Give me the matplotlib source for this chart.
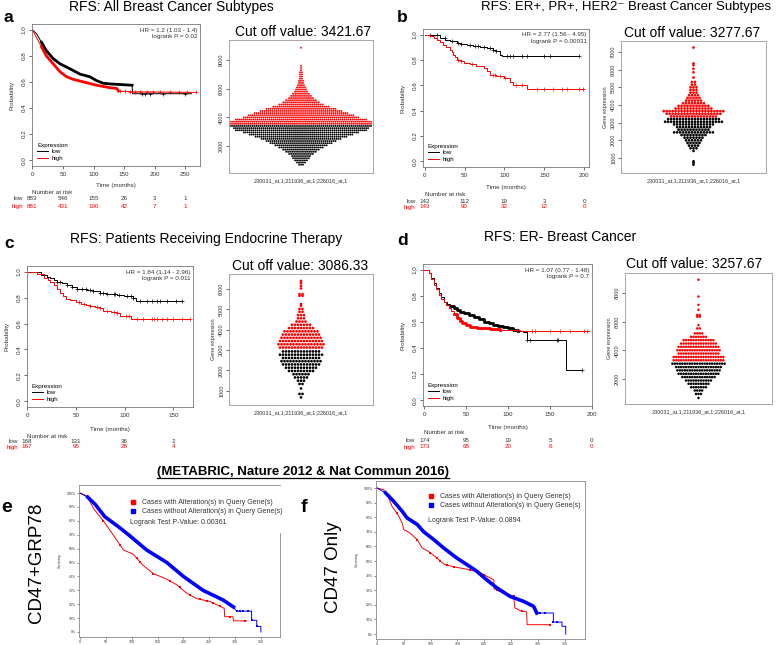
import numpy as np
import matplotlib
matplotlib.use('Agg')
import matplotlib.pyplot as plt
from matplotlib.lines import Line2D
from matplotlib import transforms

# ---- Kaplan-Meier curves (months, probability) ----
a_low_t = [0, 7, 15, 23, 34, 45, 62, 78, 94, 105, 116, 127, 163, 164, 260]
a_low_s = [1.0, 0.97, 0.905, 0.84, 0.78, 0.74, 0.70, 0.66, 0.64, 0.61, 0.59, 0.585, 0.575, 0.51, 0.51]
a_low_c = [179, 184, 192, 214, 250]
a_high_t = [0, 7, 15, 23, 34, 45, 56, 67, 84, 105, 127, 138, 141, 165, 268]
a_high_s = [1.0, 0.94, 0.87, 0.80, 0.74, 0.68, 0.64, 0.62, 0.60, 0.575, 0.556, 0.55, 0.53, 0.525, 0.52]
a_high_c = [144, 152, 160, 168, 176, 187, 198, 209, 225, 239, 253, 268]

b_low_t = [0, 11, 19, 26, 32, 40, 46, 53, 61, 70, 78, 86, 90, 95, 97, 193]
b_low_s = [1.0, 0.995, 0.97, 0.96, 0.95, 0.935, 0.925, 0.92, 0.91, 0.905, 0.895, 0.88, 0.87, 0.84, 0.83, 0.83]
b_low_c = [7, 15, 25, 34, 42, 46, 57, 63, 67, 74, 82, 86, 90, 103, 107, 111, 122, 128, 149, 157, 193]
b_high_t = [0, 7, 12, 15, 19, 23, 27, 32, 34, 36, 38, 40, 45, 49, 57, 65, 74, 78, 82, 90, 99, 107, 111, 124, 128, 200]
b_high_s = [1.0, 0.99, 0.975, 0.96, 0.94, 0.92, 0.90, 0.88, 0.86, 0.84, 0.82, 0.80, 0.79, 0.78, 0.765, 0.75,
            0.74, 0.71, 0.685, 0.67, 0.66, 0.63, 0.605, 0.605, 0.575, 0.575]
b_high_c = [42, 46, 59, 86, 88, 95, 101, 115, 122, 141, 149, 161, 172, 178, 193, 199]

c_low_t = [0, 7, 14, 20, 24, 28, 31, 36, 41, 46, 51, 56, 61, 68, 75, 82, 92, 99, 109, 112, 158]
c_low_s = [1.0, 0.995, 0.975, 0.96, 0.95, 0.935, 0.92, 0.91, 0.90, 0.885, 0.87, 0.865, 0.86, 0.85, 0.84,
           0.83, 0.82, 0.81, 0.80, 0.775, 0.775]
c_low_c = [31, 34, 41, 46, 51, 56, 60, 65, 68, 75, 78, 82, 89, 90, 94, 102, 107, 109, 116, 123, 128, 133,
           136, 143, 153, 159]
c_high_t = [0, 10, 17, 21, 24, 28, 31, 34, 37, 40, 44, 50, 55, 60, 65, 70, 75, 78, 86, 92, 95, 107, 167]
c_high_s = [1.0, 0.985, 0.95, 0.935, 0.92, 0.895, 0.87, 0.84, 0.81, 0.79, 0.78, 0.765, 0.755, 0.745, 0.735,
            0.73, 0.72, 0.70, 0.69, 0.68, 0.655, 0.635, 0.635]
c_high_c = [53, 58, 65, 72, 75, 82, 89, 92, 101, 104, 113, 119, 128, 130, 133, 138, 143, 150, 159, 167]

d_low_t = [0, 5, 8, 11, 14, 17, 20, 23, 27, 31, 35, 39, 43, 47, 53, 59, 65, 71, 77, 82, 88, 94, 100, 106,
           112, 118, 122, 169, 188]
d_low_s = [1.0, 0.975, 0.94, 0.90, 0.86, 0.82, 0.79, 0.755, 0.735, 0.72, 0.705, 0.69, 0.68, 0.67, 0.655,
           0.64, 0.62, 0.60, 0.59, 0.58, 0.57, 0.565, 0.55, 0.54, 0.53, 0.525, 0.46, 0.23, 0.23]
d_low_c = [122, 126, 158, 160, 188]
d_high_t = [0, 5, 8, 11, 14, 17, 20, 23, 26, 29, 32, 35, 39, 42, 45, 50, 55, 63, 78, 90, 114, 196]
d_high_s = [1.0, 0.975, 0.93, 0.885, 0.85, 0.81, 0.78, 0.755, 0.73, 0.705, 0.685, 0.665, 0.63, 0.61, 0.59,
            0.575, 0.565, 0.55, 0.545, 0.54, 0.53, 0.53]
d_high_c = [110, 128, 132, 150, 162, 174, 190, 194]

# number at risk
a_nar = ([0, 50, 100, 150, 200, 250], [883, 546, 155, 26, 3, 1], [881, 431, 190, 42, 7, 1])
b_nar = ([0, 50, 100, 150, 200], [142, 112, 19, 3, 0], [143, 90, 32, 12, 0])
c_nar = ([0, 50, 100, 150], [168, 131, 36, 2], [167, 95, 28, 4])
d_nar = ([0, 50, 100, 150, 200], [174, 95, 19, 5, 0], [173, 68, 20, 6, 0])

# ---- beeswarm rows: expression level and number of samples in the row ----
bs_a_levels = [700, 850, 1000, 1150, 1300, 1450, 1600, 1750, 1900, 2050, 2200, 2350, 2500, 2650, 2800,
               2950, 3100, 3250, 3400, 3550, 3700, 3850, 4000, 4150, 4300, 4450, 4600, 4750, 4900, 5050,
               5200, 5350, 5500, 5650, 5800, 5950, 6100, 6250, 6400, 6550, 6700, 6850, 7000, 7150, 7300,
               7450, 7600, 8860]
bs_a_counts = [3, 5, 7, 9, 10, 13, 16, 19, 23, 27, 32, 36, 41, 47, 53, 59, 67, 69, 72, 72, 72, 67, 59, 54,
               48, 42, 36, 29, 23, 19, 16, 13, 11, 9, 7, 6, 5, 4, 3, 3, 2, 2, 2, 2, 1, 1, 1, 1]
bs_b_levels = [620, 720, 810, 1400, 1550, 1700, 1850, 2000, 2150, 2300, 2450, 2600, 2750, 2900, 3050, 3200,
               3350, 3500, 3650, 3800, 3950, 4100, 4250, 4400, 4550, 4700, 4850, 5000, 5150, 5300, 5550,
               5850, 6050, 6250, 6350, 7250]
bs_b_counts = [1, 1, 1, 1, 3, 4, 5, 6, 7, 9, 14, 11, 12, 14, 20, 18, 16, 19, 21, 13, 11, 8, 6, 5, 4, 3, 3,
               3, 2, 2, 1, 1, 1, 1, 1, 1]
bs_c_levels = [670, 840, 1110, 1330, 1490, 1650, 1810, 1970, 2130, 2290, 2450, 2610, 2770, 2930, 3120,
               3280, 3440, 3600, 3760, 3920, 4080, 4240, 4400, 4560, 4720, 4880, 5020, 5180, 5260, 5670,
               5750, 6030, 6160, 6290, 6400]
bs_c_counts = [1, 2, 1, 2, 3, 5, 6, 9, 11, 13, 14, 13, 15, 13, 15, 16, 15, 14, 13, 12, 9, 7, 4, 3, 3, 2, 2,
               1, 1, 2, 2, 1, 1, 1, 1]
bs_d_levels = [660, 940, 1180, 1410, 1650, 1880, 2120, 2350, 2590, 2820, 3060, 3300, 3530, 3770, 4000,
               4240, 4470, 4710, 4940, 5180, 5530, 5760, 6350, 6470, 6830, 7180, 7760, 8940]
bs_d_counts = [1, 3, 4, 7, 9, 11, 14, 17, 18, 19, 22, 21, 21, 17, 18, 17, 15, 13, 7, 4, 2, 1, 2, 2, 1, 1,
               1, 1]
cutoffs = [3421.67, 3277.67, 3086.33, 3257.67]

# ---- METABRIC curves (months, % surviving) ----
e_with_t = [0, 13, 26, 45, 64, 84, 103, 122, 142, 168, 187, 206, 226, 251, 271, 279, 280, 296, 297, 322]
e_with_s = [100, 98, 89, 80, 70, 59, 56, 48, 42, 38, 34, 28, 24, 22, 18.5, 17, 11, 11, 8, 8]
e_with_c = [45, 77, 110, 116, 142, 174, 193, 213, 232, 245, 258, 271, 290, 320]
e_without_t = [0, 15, 29, 48, 77, 97, 129, 168, 200, 238, 277, 297, 303, 332, 332, 342, 342, 350, 350]
e_without_s = [100, 97, 92, 83, 75, 69, 59, 50, 40, 30, 23, 18, 15, 15, 8.4, 8.4, 4, 4, 0]
e_without_c = [303, 309, 316, 325, 332, 342]

f_with_t = [0, 12, 19, 28, 37, 47, 50, 62, 75, 84, 96, 112, 124, 143, 174, 193, 211, 218, 218, 236, 255,
            257, 270, 279, 280, 323]
f_with_s = [100, 98.9, 95.4, 87.4, 82.9, 76, 71.5, 69, 64.6, 59, 56.6, 52, 48, 46, 44, 41.8, 38.4, 37, 31,
            28, 25.8, 18, 15.5, 15.3, 6.4, 6.4]
f_with_c = [19, 37, 75, 99, 112, 118, 130, 143, 174, 186, 199, 224, 236, 255, 270, 323]
f_without_t = [0, 16, 31, 47, 56, 75, 87, 106, 124, 149, 174, 186, 205, 224, 248, 273, 292, 298, 329, 329,
               345, 345, 352, 352]
f_without_s = [100, 96.6, 90.9, 84, 79.5, 75, 70, 64.6, 59, 52, 46, 43, 37, 31.5, 25.8, 22.4, 19, 14.4,
               14.4, 8.2, 8.2, 5.3, 5.3, 0]
f_without_c = [298, 304, 314, 329, 335]

plt.rcParams['font.family'] = ['Liberation Sans', 'DejaVu Sans']
W, H = 778, 645
fig = plt.figure(figsize=(W / 100, H / 100), dpi=100)
TXT = '#333333'


def box(l, t, r, b):
    return fig.add_axes([l / W, 1 - b / H, (r - l) / W, (b - t) / H])


def ftext(x, y, s, **kw):
    return fig.text(x / W, 1 - y / H, s, **kw)


def style_spines(ax, col='#777777'):
    for sp in ax.spines.values():
        sp.set_color(col)
        sp.set_linewidth(0.6)


def km_panel(ax, low, high, step, xlim, xticks, hr, nar, rows):
    ds = 'steps-post' if step else 'default'
    handles = []
    for (t, s, cens, dense), col in [(low, 'black'), (high, 'red')]:
        t = np.asarray(t, float)
        s = np.asarray(s, float)
        h, = ax.plot(t, s, color=col, lw=0.7, drawstyle=ds)
        handles.append(h)
        if dense:
            m = (t >= dense[0]) & (t <= dense[1])
            ax.plot(t[m], s[m], color=col, lw=2.0, drawstyle=ds)
        cens = np.asarray(cens, float)
        if step:
            cy = s[np.searchsorted(t, cens, side='right') - 1]
        else:
            cy = np.interp(cens, t, s)
        ax.plot(cens, cy, ls='none', marker='+', color=col, ms=3, mew=0.5)
    ax.set_xlim(*xlim)
    ax.set_ylim(-0.045, 1.045)
    ax.set_xticks(xticks)
    ax.set_yticks([0, 0.2, 0.4, 0.6, 0.8, 1.0])
    ax.set_yticklabels(['0.0', '0.2', '0.4', '0.6', '0.8', '1.0'], rotation=90, va='center')
    ax.tick_params(labelsize=4.5, length=2.5, width=0.5, pad=1.5, colors=TXT)
    style_spines(ax)
    ax.set_ylabel('Probability', fontsize=4.5, labelpad=5, color=TXT)
    ax.text(0.985, 0.975, hr, transform=ax.transAxes, ha='right', va='top', fontsize=4.5,
            multialignment='right', linespacing=1.3, color=TXT)
    ax.legend(handles, ['low', 'high'], title='Expression', loc='lower left', frameon=False,
              fontsize=4.5, title_fontsize=4.5, alignment='left', handlelength=1.8,
              handletextpad=0.5, labelspacing=0.2, borderaxespad=0.4)

    ty, ny, ly, hy = [1 - v / H for v in rows]
    tr = transforms.blended_transform_factory(ax.transData, fig.transFigure)
    tr_lab = transforms.offset_copy(tr, fig=fig, x=-9, y=0, units='dots')
    tr_mid = transforms.blended_transform_factory(ax.transAxes, fig.transFigure)
    ax.text(0.5, ty, 'Time (months)', transform=tr_mid, ha='center', va='center', fontsize=4.5, color=TXT)
    ax.text(0, ny, 'Number at risk', transform=tr, ha='left', va='center', fontsize=4.5, color=TXT)
    ax.text(0, ly, 'low', transform=tr_lab, ha='right', va='center', fontsize=4.5, color=TXT)
    ax.text(0, hy, 'high', transform=tr_lab, ha='right', va='center', fontsize=4.5, color='red')
    for x, lo, hi in zip(*nar):
        ax.text(x, ly, str(lo), transform=tr, ha='center', va='center', fontsize=4.5, color=TXT)
        ax.text(x, hy, str(hi), transform=tr, ha='center', va='center', fontsize=4.5, color='red')


def swarm_panel(ax, levels, counts, cutoff, size, xhalf, ylim, yticks, ylabel):
    xs, ys = [], []
    for lv, n in zip(levels, counts):
        xs.extend(np.arange(n) - (n - 1) / 2)
        ys.extend([lv] * n)
    xs, ys = np.array(xs), np.array(ys)
    cols = np.where(ys >= cutoff, 'red', 'black')
    ax.scatter(xs, ys, s=size, c=cols, linewidths=0)
    ax.set_xlim(-xhalf, xhalf)
    ax.set_ylim(*ylim)
    ax.set_xticks([])
    ax.set_yticks(yticks)
    ax.set_yticklabels([str(v) for v in yticks], rotation=90, va='center')
    ax.tick_params(labelsize=4, length=2, width=0.5, pad=1.5, colors=TXT)
    style_spines(ax, '#999999')
    ax.set_xlabel('230031_at,1;211936_at,1;226016_at,1', fontsize=4, labelpad=4, color=TXT)
    if ylabel:
        ax.set_ylabel('Gene expression', fontsize=4, labelpad=2, color=TXT)


def metabric_panel(ax, wt, ws, wc, ot, os_, oc, xlim, ylim, pval, anchor, pxy):
    wt, ws, ot, os_ = [np.asarray(v, float) for v in (wt, ws, ot, os_)]
    ax.plot(wt, ws, color='red', lw=0.7)
    ax.plot(wc, np.interp(wc, wt, ws), ls='none', marker='s', color='red', ms=1.6, mew=0)
    ax.plot(ot, os_, color='blue', lw=0.7)
    m = (ot >= 15) & (ot <= 300)
    ax.plot(ot[m], os_[m], color='blue', lw=2.6)
    ax.plot(oc, np.interp(oc, ot, os_), ls='none', marker='s', color='blue', ms=1.6, mew=0)
    ax.set_xlim(*xlim)
    ax.set_ylim(*ylim)
    ax.set_xticks(range(0, 351, 50))
    ax.set_yticks(range(0, 101, 10))
    ax.set_yticklabels([f'{v}%' for v in range(0, 101, 10)])
    ax.tick_params(labelsize=2.5, length=1.5, width=0.4, pad=1, colors=TXT)
    style_spines(ax, '#888888')
    ax.set_ylabel('Surviving', fontsize=2.5, labelpad=3, color=TXT)
    hs = [Line2D([], [], ls='none', marker='s', color='red', ms=3),
          Line2D([], [], ls='none', marker='s', color='blue', ms=3)]
    ax.legend(hs, ['Cases with Alteration(s) in Query Gene(s)', 'Cases without Alteration(s) in Query Gene(s)'],
              loc='upper left', bbox_to_anchor=anchor, frameon=False, fontsize=5, handlelength=0.8,
              handletextpad=0.9, labelspacing=0.3, borderpad=0, borderaxespad=0, labelcolor=TXT)
    ax.text(pxy[0], pxy[1], 'Logrank Test P-Value: ' + pval, transform=ax.transAxes, fontsize=5,
            va='center', color=TXT)


# ---- panel a ----
ax = box(32, 24, 200, 166)
km_panel(ax, (a_low_t, a_low_s, a_low_c, (8, 163)), (a_high_t, a_high_s, a_high_c, (8, 141)), False,
         (-0.5, 274), range(0, 251, 50), 'HR = 1.2 (1.03 - 1.4)\nlogrank P = 0.02', a_nar, (186, 193, 199, 206))
ax = box(229, 40, 373, 173)
swarm_panel(ax, bs_a_levels, bs_a_counts, cutoffs[0], 1.8, 36.5, (120, 9400), [2000, 4000, 6000, 8000], False)

# ---- panel b ----
ax = box(423, 29, 589, 167)
km_panel(ax, (b_low_t, b_low_s, b_low_c, None), (b_high_t, b_high_s, b_high_c, None), True,
         (-2, 206), range(0, 201, 50), 'HR = 2.77 (1.56 - 4.95)\nlogrank P = 0.00031', b_nar, (188, 194, 201, 207))
ax = box(621, 41, 766, 173)
swarm_panel(ax, bs_b_levels, bs_b_counts, cutoffs[1], 3.8, 24.3, (150, 7620), list(range(1000, 7001, 1000)), True)

# ---- panel c ----
ax = box(27, 266, 193, 407)
km_panel(ax, (c_low_t, c_low_s, c_low_c, None), (c_high_t, c_high_s, c_high_c, None), True,
         (0, 170), range(0, 151, 50), 'HR = 1.84 (1.14 - 2.96)\nlogrank P = 0.011', c_nar, (429, 436, 441.5, 447))
ax = box(229, 274, 373, 405)
swarm_panel(ax, bs_c_levels, bs_c_counts, cutoffs[2], 3.8, 24, (295, 6740), list(range(1000, 6001, 1000)), True)

# ---- panel d ----
ax = box(423, 264, 592, 406)
km_panel(ax, (d_low_t, d_low_s, d_low_c, (28, 112)), (d_high_t, d_high_s, d_high_c, (35, 100)), True,
         (-1.6, 200), range(0, 201, 50), 'HR = 1.07 (0.77 - 1.48)\nlogrank P = 0.7', d_nar, (427, 433, 440.5, 447))
ax = box(625, 273, 772, 404)
swarm_panel(ax, bs_d_levels, bs_d_counts, cutoffs[3], 3.3, 29.6, (235, 9410), [2000, 4000, 6000, 8000], True)

# ---- panels e, f ----
ax = box(79, 485, 280, 637)
metabric_panel(ax, e_with_t, e_with_s, e_with_c, e_without_t, e_without_s, e_without_c,
               (-2, 387), (-3.6, 105.8), '0.00361', (0.255, 0.908), (0.254, 0.75))
ax.spines['right'].set_bounds(-3.6, 71)
ax = box(376, 481, 585, 639)
metabric_panel(ax, f_with_t, f_with_s, f_with_c, f_without_t, f_without_s, f_without_c,
               (-2, 388), (-3.4, 104.8), '0.0894', (0.251, 0.924), (0.249, 0.753))

# ---- titles and panel letters ----
ftext(171, 7, 'RFS: All Breast Cancer Subtypes', ha='center', va='center', fontsize=10)
ftext(626, 7, 'RFS: ER+, PR+, HER2\u207b Breast Cancer Subtypes', ha='center', va='center', fontsize=9.5)
ftext(206, 239, 'RFS: Patients Receiving Endocrine Therapy', ha='center', va='center', fontsize=10)
ftext(560, 237, 'RFS: ER- Breast Cancer', ha='center', va='center', fontsize=10)
ftext(303, 32, 'Cut off value: 3421.67', ha='center', va='center', fontsize=10)
ftext(692, 33, 'Cut off value: 3277.67', ha='center', va='center', fontsize=10)
ftext(300, 266, 'Cut off value: 3086.33', ha='center', va='center', fontsize=10)
ftext(694, 264, 'Cut off value: 3257.67', ha='center', va='center', fontsize=10)
for x, y, s, size in [(3, 18, 'a', 12.5), (397, 17, 'b', 12.5), (4, 243, 'c', 12.5), (397, 241, 'd', 12.5),
                      (1, 508, 'e', 14), (301, 507, 'f', 14)]:
    ftext(x, y, s, ha='left', va='center', fontsize=size, fontweight='bold')
ftext(37, 563, 'CD47+GRP78', rotation=90, ha='center', va='center', fontsize=13.5)
ftext(333, 567, 'CD47 Only', rotation=90, ha='center', va='center', fontsize=13.5)
meta = ftext(303, 472, '(METABRIC, Nature 2012 & Nat Commun 2016)', ha='center', va='center',
             fontsize=9.5, fontweight='bold')

fig.canvas.draw()
bb = meta.get_window_extent()
fig.add_artist(Line2D([bb.x0 / W, bb.x1 / W], [(bb.y0 + 0.5) / H] * 2, color='black', lw=0.9))

fig.savefig('out.png', dpi=100)
